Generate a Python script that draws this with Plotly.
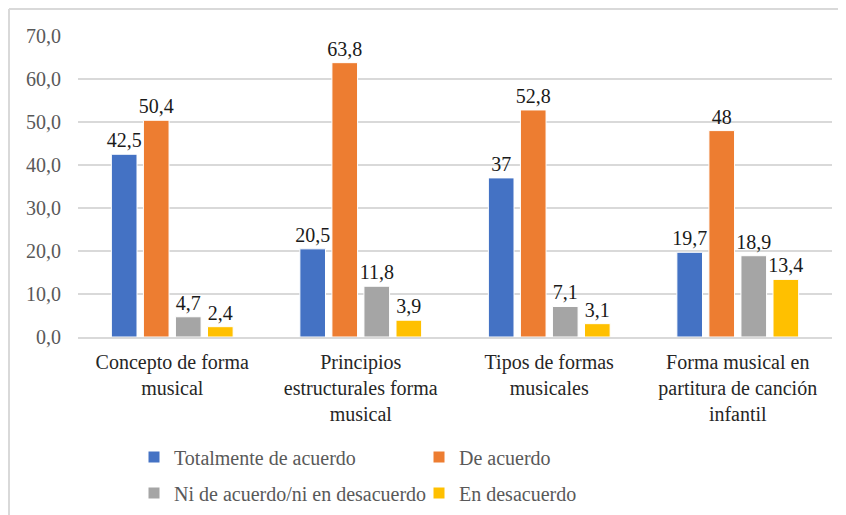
import plotly.graph_objects as go

categories = [
    "Concepto de forma<br>musical",
    "Principios<br>estructurales forma<br>musical",
    "Tipos de formas<br>musicales",
    "Forma musical en<br>partitura de canción<br>infantil",
]
series_names = [
    "Totalmente de acuerdo",
    "De acuerdo",
    "Ni de acuerdo/ni en desacuerdo",
    "En desacuerdo",
]
totalmente = [42.5, 20.5, 37, 19.7]
de_acuerdo = [50.4, 63.8, 52.8, 48]
ni_ni = [4.7, 11.8, 7.1, 18.9]
desacuerdo = [2.4, 3.9, 3.1, 13.4]
y_ticks = [0, 10, 20, 30, 40, 50, 60, 70]
y_tick_labels = ["0,0", "10,0", "20,0", "30,0", "40,0", "50,0", "60,0", "70,0"]

COLORS = ["#4472C4", "#ED7D31", "#A5A5A5", "#FFC000"]
SERIF = "Liberation Serif"
GRID = "#d9d9d9"

fig = go.Figure()
for i, (name, vals, col) in enumerate(zip(series_names,
                                          [totalmente, de_acuerdo, ni_ni, desacuerdo],
                                          COLORS)):
    fig.add_trace(go.Bar(
        name=name, x=categories, y=vals,
        marker=dict(color=col, line=dict(color="#ffffff", width=1)),
        text=[str(v).replace(".", ",") for v in vals],
        textposition="outside", cliponaxis=False, constraintext="none",
        textfont=dict(family=SERIF, size=20, color="#1a1a1a"),
        legend="legend" if i < 2 else "legend2",
    ))

# page has an 8px body margin, so figure px = screen px - 8
W, H = 846, 515
L, R, T, B = 70, 22, 28, 186
pw, ph = W - L - R, H - T - B

leg = dict(orientation="h", xanchor="left", yanchor="middle",
           xref="container", yref="container", x=126 / W,
           entrywidth=240, entrywidthmode="pixels", bgcolor="rgba(0,0,0,0)",
           font=dict(family=SERIF, size=20, color="#595959"))

fig.update_layout(
    width=W, height=H,
    margin=dict(l=L, r=R, t=T, b=B, autoexpand=False),
    paper_bgcolor="#ffffff", plot_bgcolor="#ffffff",
    barmode="group", bargap=0.32, bargroupgap=0.2,
    showlegend=True,
    legend=dict(leg, y=1 - 449 / H),
    legend2=dict(leg, y=1 - 485 / H),
    shapes=[
        dict(type="line", xref="paper", yref="paper",
             x0=(1 - L) / pw, x1=(1 - L) / pw, y0=-(B + 5) / ph, y1=1 + (T - 1) / ph,
             line=dict(color=GRID, width=2)),
        dict(type="line", xref="paper", yref="paper",
             x0=(1 - L) / pw, x1=(W - L) / pw, y0=1 + (T - 1) / ph, y1=1 + (T - 1) / ph,
             line=dict(color=GRID, width=2)),
    ],
)
fig.update_xaxes(
    showgrid=False, showline=True, linecolor=GRID, linewidth=1.5,
    ticks="", ticklabelstandoff=6,
    tickfont=dict(family=SERIF, size=20, color="#262626"),
)
fig.update_yaxes(
    range=[0, 70], tickvals=y_ticks, ticktext=y_tick_labels,
    showgrid=True, gridcolor=GRID, gridwidth=1.5, zeroline=False,
    showline=False, ticks="", ticklabelstandoff=16,
    tickfont=dict(family=SERIF, size=20, color="#595959"),
)

fig.write_html("out.html")
